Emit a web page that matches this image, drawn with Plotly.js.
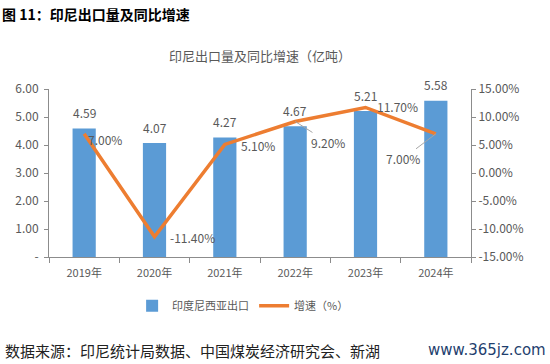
<!DOCTYPE html>
<html>
<head>
<meta charset="utf-8">
<script src="https://cdn.plot.ly/plotly-3.0.1.min.js"></script>
<style>html,body{margin:0;padding:0;background:#fff;}#chart{width:550px;height:364px;}</style>
</head>
<body>
<div id="chart"></div>
<script>
const years = ["2019年", "2020年", "2021年", "2022年", "2023年", "2024年"];
const exportVol = [4.59, 4.07, 4.27, 4.67, 5.21, 5.58];
const growth = [7.0, -11.4, 5.1, 9.2, 11.7, 7.0];
const leftTicks = [0, 1, 2, 3, 4, 5, 6];
const leftTickText = ["-", "1.00", "2.00", "3.00", "4.00", "5.00", "6.00"];
const rightTicks = [-15, -10, -5, 0, 5, 10, 15];
const rightTickText = ["-15.00%", "-10.00%", "-5.00%", "0.00%", "5.00%", "10.00%", "15.00%"];

// label placement offsets for growth labels (px)
const gLabelPos = [
  {xs: 21, ys: -6, arrow: false},
  {xs: 38, ys: -1, arrow: false},
  {xs: 33, ys: -1, arrow: false},
  {ax: 33, ay: 21, arrow: true},
  {xs: 32, ys: 1, arrow: false},
  {ax: -33, ay: 25, arrow: true}
];

const font = "'Noto Sans CJK SC', 'DejaVu Sans', sans-serif";
const grey = "#595959";

const annotations = [];
exportVol.forEach((v, i) => {
  annotations.push({x: years[i], y: v, xref: 'x', yref: 'y', text: v.toFixed(2),
    showarrow: false, yshift: 16, font: {size: 12, color: grey, family: font}});
});
growth.forEach((g, i) => {
  const p = gLabelPos[i];
  const a = {x: years[i], y: g, xref: 'x', yref: 'y2', text: g.toFixed(2) + '%',
    font: {size: 12, color: grey, family: font}};
  if (p.arrow) {
    Object.assign(a, {showarrow: true, arrowhead: 0, arrowwidth: 1, arrowcolor: '#a6a6a6',
      ax: p.ax, ay: p.ay, standoff: 0, startstandoff: 0});
  } else {
    Object.assign(a, {showarrow: false, xshift: p.xs, yshift: p.ys});
  }
  annotations.push(a);
});
annotations.push({xref: 'paper', yref: 'paper', x: 0.5, y: 1, yshift: 45, xanchor: 'center',
  text: '印尼出口量及同比增速（亿吨）', showarrow: false,
  font: {size: 13, color: grey, family: font}});

const traces = [
  {type: 'bar', x: years, y: exportVol, name: '印度尼西亚出口', marker: {color: '#5B9BD5'},
   width: 0.33, hoverinfo: 'y'},
  {type: 'scatter', mode: 'lines', x: years, y: growth, yaxis: 'y2', name: '增速（%）',
   line: {color: '#ED7D31', width: 3.5}}
];

const layout = {
  width: 550, height: 364,
  margin: {l: 49, r: 79, t: 89, b: 107},
  paper_bgcolor: '#fff', plot_bgcolor: '#fff',
  showlegend: true,
  legend: {orientation: 'h', x: 0.46, xanchor: 'center', y: -0.29, yanchor: 'middle',
    font: {size: 11, color: grey, family: font}, itemwidth: 30},
  xaxis: {type: 'category', showline: true, linecolor: '#8c8c8c', ticks: 'outside', ticklen: 5,
    tickcolor: '#8c8c8c', tickson: 'boundaries', showgrid: false, ticklabelstandoff: 6,
    tickfont: {size: 11, color: grey, family: font}},
  yaxis: {range: [0, 6], tickvals: leftTicks, ticktext: leftTickText, showline: true,
    linecolor: '#8c8c8c', ticks: 'outside', ticklen: 4, tickcolor: '#8c8c8c', showgrid: false,
    zeroline: false, ticklabelstandoff: 3, tickfont: {size: 12, color: grey, family: font}},
  yaxis2: {range: [-15, 15], overlaying: 'y', side: 'right', tickvals: rightTicks,
    ticktext: rightTickText, showline: true, linecolor: '#8c8c8c', ticks: 'outside', ticklen: 4,
    tickcolor: '#8c8c8c', showgrid: false, zeroline: false,
    tickfont: {size: 12, color: grey, family: font}},
  annotations: annotations.concat([
    {xref: 'paper', yref: 'paper', x: -49/422, y: 1, yshift: 75, xanchor: 'left', yanchor: 'middle',
     text: '<b>图 11：印尼出口量及同比增速</b>', showarrow: false,
     font: {size: 14, color: '#000', family: font}},
    {xref: 'paper', yref: 'paper', x: -46/422, y: 0, yshift: -93, xanchor: 'left', yanchor: 'middle',
     text: '数据来源：印尼统计局数据、中国煤炭经济研究会、新湖', showarrow: false,
     font: {size: 15, color: '#222', family: font}},
    {xref: 'paper', yref: 'paper', x: 1, xshift: 77, y: 0, yshift: -93, xanchor: 'right', yanchor: 'middle',
     text: 'www.365jz.com', showarrow: false,
     font: {size: 15, color: '#1f3f6e', family: "'DejaVu Sans', sans-serif"}}
  ])
};

Plotly.newPlot('chart', traces, layout, {displayModeBar: false, staticPlot: true});
</script>
</body>
</html>
